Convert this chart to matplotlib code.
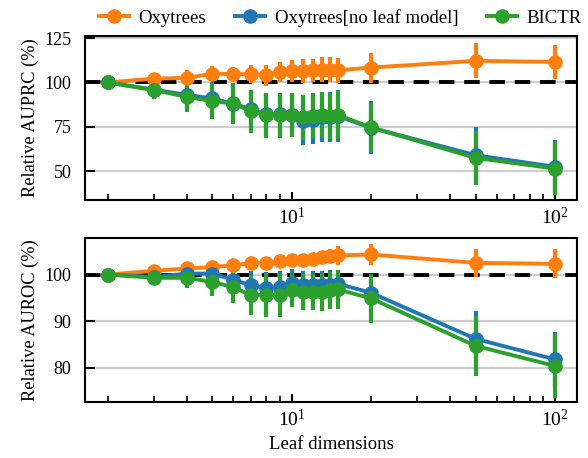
import numpy as np
import matplotlib
matplotlib.use("Agg")
import matplotlib.pyplot as plt
from matplotlib.lines import Line2D

plt.rcParams['font.family'] = ['Liberation Serif', 'DejaVu Serif']
plt.rcParams['mathtext.fontset'] = 'stix'

leaf_dims = [2, 3, 4, 5, 6, 7, 8, 9, 10, 11, 12, 13, 14, 15, 20, 50, 100]

# AUPRC (relative, %)
prc_oxy = [100, 102.2, 102.6, 105, 104.7, 104.7, 104.1, 106, 106.5, 106.5, 106.9, 107.3, 107.3, 106.9, 108.4, 112.2, 111.6]
prc_oxy_err = [0, 3, 4.2, 4.2, 4, 5.2, 5.8, 5.6, 6, 6.6, 6.6, 7, 7.3, 7, 8.5, 9.8, 9.8]
prc_noleaf = [100, 96, 93, 91, 88, 85, 82, 82, 81.5, 78.5, 79, 80.5, 80.5, 81, 74.5, 59, 52.5]
prc_noleaf_err = [0, 5, 8, 9, 11, 11, 12, 12, 12, 13.5, 13.5, 14, 14, 14.5, 15, 16, 15]
prc_bictr = [100, 95.7, 91.9, 89.5, 88.2, 83.8, 81.6, 81.6, 81.6, 80.3, 81.3, 81.6, 81.3, 81.6, 74.7, 57.5, 51.5]
prc_bictr_err = [0, 5.2, 8.3, 10.3, 11.5, 12.2, 12.7, 12.7, 12.3, 12.8, 12.5, 13, 13, 13.5, 14, 15, 15]

# AUROC (relative, %)
roc_oxy = [100, 100.8, 101.3, 101.6, 102, 102.4, 102.5, 102.8, 103.1, 103.2, 103.4, 103.8, 104, 104.1, 104.3, 102.5, 102.3]
roc_oxy_err = [0, 0.4, 0.5, 0.5, 0.5, 0.5, 0.5, 0.5, 0.5, 0.6, 0.7, 1.0, 1.5, 2.0, 2.2, 3.0, 3.1]
roc_noleaf = [100, 99.5, 100.2, 100.2, 98.9, 97.7, 97.1, 97.3, 98.1, 97.7, 97.7, 97.7, 97.8, 98, 96.1, 86.2, 81.8]
roc_noleaf_err = [0, 1, 1.5, 2, 2.8, 3, 3.4, 3.4, 3, 3, 3, 3, 3.2, 3, 4, 6, 5.9]
roc_bictr = [100, 99.3, 99.3, 98.4, 97.3, 95.6, 95.6, 95.6, 96.6, 96.3, 96.3, 96.3, 96.6, 96.8, 94.9, 84.7, 80.4]
roc_bictr_err = [0, 1, 2.1, 2.9, 3.4, 4.3, 4.8, 4.6, 3.6, 3.8, 3.8, 4.1, 4, 4.1, 5.2, 6.5, 6.8]

colors = ['#ff7f0e', '#1f77b4', '#2ca02c']
labels = ['Oxytrees', 'Oxytrees[no leaf model]', 'BICTR']

fig = plt.figure(figsize=(5.88, 4.58), dpi=100)
ax1 = fig.add_axes([0.145, 0.563, 0.837, 0.358])
ax2 = fig.add_axes([0.145, 0.122, 0.837, 0.358])

panels = [
    (ax1, [prc_oxy, prc_noleaf, prc_bictr], [prc_oxy_err, prc_noleaf_err, prc_bictr_err],
     'Relative AUPRC (%)', [50, 75, 100, 125], (33.7, 126.1)),
    (ax2, [roc_oxy, roc_noleaf, roc_bictr], [roc_oxy_err, roc_noleaf_err, roc_bictr_err],
     'Relative AUROC (%)', [80, 90, 100], (72.65, 107.8)),
]

for ax, series, errs, ylabel, yticks, ylim in panels:
    for vals, err, c, lab in zip(series, errs, colors, labels):
        ax.errorbar(leaf_dims, vals, yerr=err, color=c, marker='o', markersize=9.5,
                    linewidth=2.8, elinewidth=3, capsize=0, label=lab, zorder=3)
    ax.axhline(100, color='black', linestyle=(0, (4, 2.5)), linewidth=2.8, zorder=2)
    ax.set_xscale('log')
    ax.set_yticks(yticks)
    ax.set_ylim(*ylim)
    ax.yaxis.grid(True, color='#cccccc', linewidth=1.5, zorder=0)
    ax.set_axisbelow(True)
    ax.set_ylabel(ylabel, fontsize=13.2, labelpad=4)
    ax.tick_params(axis='both', which='both', direction='in')
    ax.tick_params(axis='y', which='major', length=7, width=1.5, pad=10, labelsize=13)
    ax.tick_params(axis='x', which='major', length=6, width=1.5, pad=5, labelsize=14)
    ax.tick_params(axis='x', which='minor', length=4, width=1.2)
    for sp in ax.spines.values():
        sp.set_linewidth(1.5)

ax2.set_xlabel('Leaf dimensions', fontsize=13.5)

handles = [Line2D([], [], color=c, marker='o', markersize=9.5, linewidth=2.8) for c in colors]
fig.legend(handles, labels, loc='center', bbox_to_anchor=(0.579, 0.961), ncol=3,
           frameon=False, fontsize=13.5, handlelength=1.6, columnspacing=1.55,
           handletextpad=0.5, borderaxespad=0)

fig.savefig('out.png', dpi=100)
